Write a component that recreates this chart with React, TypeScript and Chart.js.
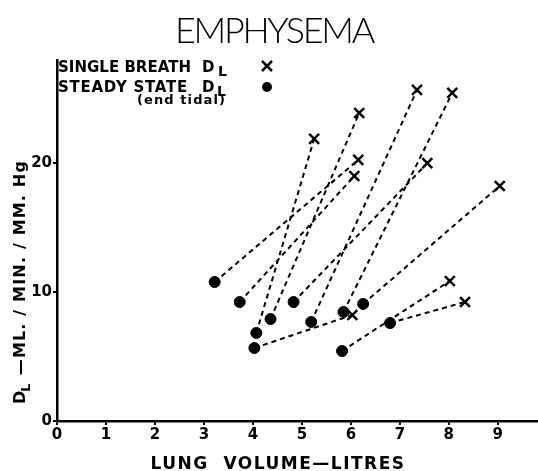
import React, { useEffect, useRef } from "react";
import { Chart, registerables } from "chart.js";

Chart.register(...registerables);

// Steady state DL (end tidal) — filled dots
const steadyX = [3.22, 3.73, 4.07, 4.36, 4.03, 4.83, 5.19, 5.82, 5.85, 6.25, 6.8];
const steadyY = [10.78, 9.23, 6.83, 7.91, 5.66, 9.23, 7.68, 5.43, 8.46, 9.08, 7.6];
// Single breath DL — crosses (paired with the dot of same index)
const singleX = [6.15, 6.07, 5.25, 6.17, 6.03, 7.56, 7.35, 8.02, 8.07, 9.04, 8.33];
const singleY = [20.25, 19.0, 21.88, 23.89, 8.22, 20.0, 25.68, 10.86, 25.45, 18.23, 9.23];

const xTicks = [0, 1, 2, 3, 4, 5, 6, 7, 8, 9];
const yTicks = [0, 10, 20];
const X_MAX = 9.8;
const Y_MAX = 28;

const TITLE = "EMPHYSEMA";
const X_TITLE = "LUNG  VOLUME\u2014LITRES";
const Y_TITLE_REST = " \u2014ML. / MIN. / MM. Hg";

function fitText(
  ctx: CanvasRenderingContext2D,
  text: string,
  x: number,
  y: number,
  width: number,
  align: "left" | "center"
) {
  (ctx as any).letterSpacing = "0px";
  const natural = ctx.measureText(text).width;
  const n = text.length;
  const ls = n > 1 ? (width - natural) / n : 0;
  (ctx as any).letterSpacing = ls + "px";
  const w = ctx.measureText(text).width;
  ctx.textAlign = "left";
  const sx = align === "center" ? x - w / 2 : x;
  ctx.fillText(text, sx, y);
  (ctx as any).letterSpacing = "0px";
}

const textPlugin = {
  id: "texts",
  afterDraw(chart: any) {
    const ctx: CanvasRenderingContext2D = chart.ctx;
    ctx.save();
    ctx.fillStyle = "#000";
    ctx.strokeStyle = "#000";
    ctx.textBaseline = "alphabetic";

    // Title
    ctx.font = "300 36px Lato";
    fitText(ctx, TITLE, 274, 43, 198, "center");

    // Legend
    ctx.font = "bold 15px 'DejaVu Sans'";
    fitText(ctx, "SINGLE BREATH", 58, 72, 133, "left");
    ctx.fillText("D", 202, 72);
    ctx.font = "bold 14px 'DejaVu Sans'";
    ctx.fillText("L", 218, 76);

    ctx.font = "bold 15px 'DejaVu Sans'";
    fitText(ctx, "STEADY STATE", 58, 92, 130, "left");
    ctx.fillText("D", 202, 92);
    ctx.font = "bold 14px 'DejaVu Sans'";
    ctx.fillText("L", 217, 96);
    ctx.font = "bold 13px 'DejaVu Sans'";
    fitText(ctx, "(end tidal)", 137, 104, 89, "left");

    // legend markers
    ctx.lineWidth = 2.5;
    ctx.beginPath();
    ctx.moveTo(262, 61);
    ctx.lineTo(272, 71);
    ctx.moveTo(272, 61);
    ctx.lineTo(262, 71);
    ctx.stroke();
    ctx.beginPath();
    ctx.arc(267, 87, 5, 0, Math.PI * 2);
    ctx.fill();

    // X axis title
    ctx.font = "bold 17px 'DejaVu Sans'";
    fitText(ctx, X_TITLE, 278, 469, 255, "center");

    // Y axis title (rotated)
    ctx.save();
    ctx.translate(25, 404);
    ctx.rotate(-Math.PI / 2);
    ctx.font = "bold 16px 'DejaVu Sans'";
    ctx.textAlign = "left";
    ctx.fillText("D", 0, 0);
    ctx.font = "bold 13px 'DejaVu Sans'";
    ctx.fillText("L", 12, 5);
    ctx.font = "bold 16px 'DejaVu Sans'";
    fitText(ctx, Y_TITLE_REST, 22, 0, 222, "left");
    ctx.restore();

    ctx.restore();
  },
};

export default function App() {
  const ref = useRef<HTMLCanvasElement | null>(null);

  useEffect(() => {
    document.body.style.margin = "0";
    const canvas = ref.current;
    if (!canvas) return;

    const datasets = steadyX.map((sx, i) => ({
      label: "pair " + (i + 1),
      data: [
        { x: sx, y: steadyY[i] },
        { x: singleX[i], y: singleY[i] },
      ],
      borderColor: "#000",
      borderWidth: 2,
      borderDash: [5, 4],
      showLine: true,
      fill: false,
      clip: false,
      pointStyle: ["circle", "crossRot"],
      pointRadius: [5.5, 7],
      pointBackgroundColor: "#000",
      pointBorderColor: "#000",
      pointBorderWidth: [1, 2.5],
    }));

    const isXTick = (v: any) => xTicks.includes(v);

    const chart = new Chart(canvas, {
      type: "scatter",
      data: { datasets: datasets as any },
      options: {
        animation: false,
        responsive: false,
        devicePixelRatio: 1,
        layout: { autoPadding: false, padding: { top: 60, right: 0, left: 0, bottom: 0 } },
        plugins: {
          legend: { display: false },
          tooltip: { enabled: false },
          title: { display: false },
        },
        scales: {
          x: {
            type: "linear",
            min: 0,
            max: X_MAX,
            afterFit: (s: any) => {
              s.height = 50;
            },
            afterBuildTicks: (s: any) => {
              s.ticks = [...xTicks.map((v) => ({ value: v })), { value: X_MAX }];
            },
            ticks: {
              color: "#000",
              font: { family: "'DejaVu Sans'", weight: "bold", size: 15 },
              padding: 1,
              maxRotation: 0,
              autoSkip: false,
              callback: (v: any) => (isXTick(v) ? String(v) : ""),
            },
            grid: {
              drawOnChartArea: false,
              drawTicks: true,
              tickLength: 4,
              color: (c: any) => (c.tick && isXTick(c.tick.value) ? "#000" : "rgba(0,0,0,0)"),
              lineWidth: 2,
            },
            border: { display: true, color: "#000", width: 2.5 },
          },
          y: {
            type: "linear",
            min: 0,
            max: Y_MAX,
            afterFit: (s: any) => {
              s.width = 57;
            },
            afterBuildTicks: (s: any) => {
              s.ticks = yTicks.map((v) => ({ value: v }));
            },
            ticks: {
              color: "#000",
              font: { family: "'DejaVu Sans'", weight: "bold", size: 15 },
              padding: 1,
              autoSkip: false,
              callback: (v: any) => String(v),
            },
            grid: {
              drawOnChartArea: false,
              drawTicks: true,
              tickLength: 4,
              color: "#000",
              lineWidth: 2,
            },
            border: { display: true, color: "#000", width: 2.5 },
          },
        },
      },
      plugins: [textPlugin],
    });

    return () => chart.destroy();
  }, []);

  return (
    <div style={{ width: 538, height: 471, background: "#fff" }}>
      <canvas ref={ref} width={538} height={471} style={{ display: "block" }} />
    </div>
  );
}
